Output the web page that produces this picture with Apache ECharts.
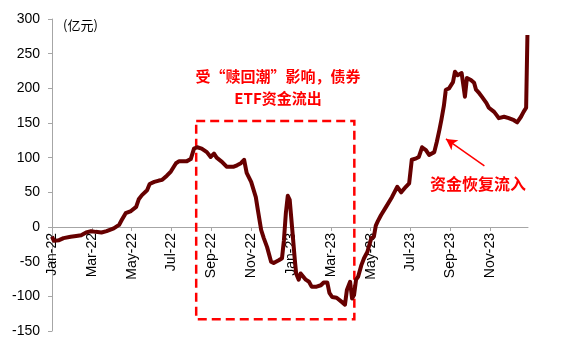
<!DOCTYPE html>
<html>
<head>
<meta charset="utf-8">
<script src="https://cdn.jsdelivr.net/npm/echarts@6/dist/echarts.min.js"></script>
<style>
  html, body { margin: 0; padding: 0; background: #fff; }
  #main { width: 566px; height: 351px; }
</style>
</head>
<body>
<div id="main"></div>
<script>
// ETF net flow, 亿元
const dates = [
  '2022-01-01', '2022-01-04', '2022-01-12', '2022-01-19', '2022-01-30', '2022-02-07', '2022-02-14', '2022-02-21',
  '2022-02-28', '2022-03-07', '2022-03-16', '2022-03-24', '2022-04-04', '2022-04-12', '2022-04-16', '2022-04-22',
  '2022-04-30', '2022-05-08', '2022-05-12', '2022-05-17', '2022-05-25', '2022-05-29', '2022-06-05', '2022-06-12',
  '2022-06-17', '2022-06-24', '2022-06-30', '2022-07-08', '2022-07-13', '2022-07-25', '2022-07-31', '2022-08-05',
  '2022-08-10', '2022-08-17', '2022-08-25', '2022-08-31', '2022-09-05', '2022-09-09', '2022-09-17', '2022-09-24',
  '2022-10-05', '2022-10-10', '2022-10-16', '2022-10-21', '2022-10-25', '2022-11-01', '2022-11-08', '2022-11-11',
  '2022-11-16', '2022-11-20', '2022-11-25', '2022-12-01', '2022-12-05', '2022-12-13', '2022-12-18', '2022-12-21',
  '2022-12-24', '2022-12-27', '2022-12-30', '2023-01-03', '2023-01-07', '2023-01-09', '2023-01-13', '2023-01-16',
  '2023-01-19', '2023-01-24', '2023-01-29', '2023-02-02', '2023-02-09', '2023-02-15', '2023-02-19', '2023-02-24',
  '2023-02-27', '2023-03-03', '2023-03-10', '2023-03-18', '2023-03-23', '2023-03-26', '2023-03-31', '2023-04-03',
  '2023-04-06', '2023-04-09', '2023-04-12', '2023-04-17', '2023-04-21', '2023-04-26', '2023-05-02', '2023-05-06',
  '2023-05-09', '2023-05-12', '2023-05-17', '2023-05-25', '2023-06-03', '2023-06-11', '2023-06-17', '2023-06-24',
  '2023-06-29', '2023-07-03', '2023-07-10', '2023-07-14', '2023-07-19', '2023-07-25', '2023-07-30', '2023-08-07',
  '2023-08-11', '2023-08-15', '2023-08-18', '2023-08-22', '2023-08-25', '2023-08-30', '2023-09-05', '2023-09-08',
  '2023-09-12', '2023-09-15', '2023-09-18', '2023-09-21', '2023-09-23', '2023-09-26', '2023-10-02', '2023-10-07',
  '2023-10-10', '2023-10-15', '2023-10-19', '2023-10-26', '2023-10-30', '2023-11-07', '2023-11-11', '2023-11-14',
  '2023-11-22', '2023-11-29', '2023-12-07', '2023-12-12', '2023-12-18', '2023-12-22', '2023-12-26', '2023-12-28'
];
const flows = [
  -14, -20, -19, -16, -14, -13, -12, -8,
  -6, -7, -8, -6, -2, 3, 10, 20,
  23, 29, 40, 46, 53, 62, 65, 67,
  68, 74, 80, 92, 95, 95, 98, 113,
  115, 113, 108, 101, 106, 100, 94, 87,
  87, 89, 92, 97, 78, 65, 43, 25,
  -4, -16, -29, -50, -52, -48, -45, -19,
  20, 45, 39, -4, -48, -67, -76, -67,
  -69, -76, -79, -86, -86, -84, -80, -80,
  -95, -101, -102, -108, -112, -91, -79, -103,
  -98, -76, -72, -55, -45, -36, -16, -14,
  2, 8, 17, 29, 43, 58, 50, 58,
  63, 97, 99, 101, 115, 111, 104, 108,
  123, 140, 154, 175, 198, 200, 209, 224,
  219, 219, 222, 202, 188, 215, 212, 208,
  198, 193, 188, 179, 172, 166, 161, 157,
  159, 157, 154, 151, 159, 166, 172, 277
];
const monthNames = ['Jan', 'Feb', 'Mar', 'Apr', 'May', 'Jun', 'Jul', 'Aug', 'Sep', 'Oct', 'Nov', 'Dec'];
const labelMonths = [0, 2, 4, 6, 8, 10, 12, 14, 16, 18, 20, 22];
const yTicks = { min: -150, max: 300, step: 50 };

// months since 2022-01-01, fractional
function toMonth(s) {
  const [y, m, d] = s.split('-').map(Number);
  const dim = new Date(y, m, 0).getDate();
  return (y - 2022) * 12 + (m - 1) + (d - 1) / dim;
}

const chart = echarts.init(document.getElementById('main'));
const red = '#FF0000';
const grey = '#A6A6A6';
const latin = '"Liberation Sans", Arial, sans-serif';
const cjk = '"Noto Sans CJK SC", sans-serif';

const gridTop = 19, gridBottom = 20;
const gridH = 351 - gridTop - gridBottom;
// onZero does not kick in for value/value here, so lift the x axis to y = 0 by hand
const zeroOffset = -gridH * (0 - yTicks.min) / (yTicks.max - yTicks.min);

chart.setOption({
  animation: false,
  grid: { left: 52, right: 38, top: gridTop, bottom: gridBottom, containLabel: false, outerBoundsMode: 'none' },
  xAxis: {
    type: 'value',
    min: 0,
    max: 23.9,
    offset: zeroOffset,
    splitLine: { show: false },
    axisLine: { onZero: false, lineStyle: { color: grey, width: 1 } },
    axisTick: { show: true, length: 4, customValues: labelMonths, lineStyle: { color: grey } },
    axisLabel: {
      rotate: 90,
      margin: 6,
      color: '#000',
      fontSize: 14,
      fontFamily: latin,
      customValues: labelMonths,
      formatter: v => monthNames[v % 12] + '-' + (22 + Math.floor(v / 12))
    }
  },
  yAxis: {
    type: 'value',
    min: yTicks.min,
    max: yTicks.max,
    interval: yTicks.step,
    splitLine: { show: false },
    axisLine: { show: true, onZero: false, lineStyle: { color: grey, width: 1 } },
    axisTick: { show: true, length: 4, lineStyle: { color: grey } },
    axisLabel: { color: '#000', fontSize: 14, fontFamily: latin, margin: 12 }
  },
  series: [{
    type: 'line',
    data: dates.map((d, i) => [toMonth(d), flows[i]]),
    showSymbol: false,
    symbol: 'none',
    lineStyle: { color: '#660000', width: 4, join: 'round' },
    z: 3,
    markArea: {
      silent: true,
      itemStyle: { color: 'rgba(0,0,0,0)', borderColor: red, borderWidth: 2.5, borderType: [9, 5] },
      data: [[{ coord: [7.24, 153] }, { coord: [15.18, -133] }]]
    },
    markLine: {
      silent: true,
      symbol: ['none', 'arrow'],
      symbolSize: [9, 11],
      label: { show: false },
      lineStyle: { color: red, width: 1.5, type: 'solid' },
      data: [[{ coord: [21.71, 88] }, { coord: [19.78, 127] }]]
    }
  }],
  graphic: [
    { type: 'text', left: 63, top: 19, style: { text: '(亿元)', fill: '#000', font: '13px ' + cjk } },
    { type: 'text', x: 278, y: 76, style: { text: '受“赎回潮”影响，债券', fill: red, font: 'bold 15px ' + cjk, textAlign: 'center', textVerticalAlign: 'middle' } },
    { type: 'text', x: 278, y: 98, style: { text: 'ETF资金流出', fill: red, font: 'bold 15px ' + cjk, textAlign: 'center', textVerticalAlign: 'middle' } },
    { type: 'text', x: 478, y: 184, style: { text: '资金恢复流入', fill: red, font: 'bold 16px ' + cjk, textAlign: 'center', textVerticalAlign: 'middle' } }
  ]
});

window.onresize = () => { chart.resize() };
</script>
</body>
</html>
